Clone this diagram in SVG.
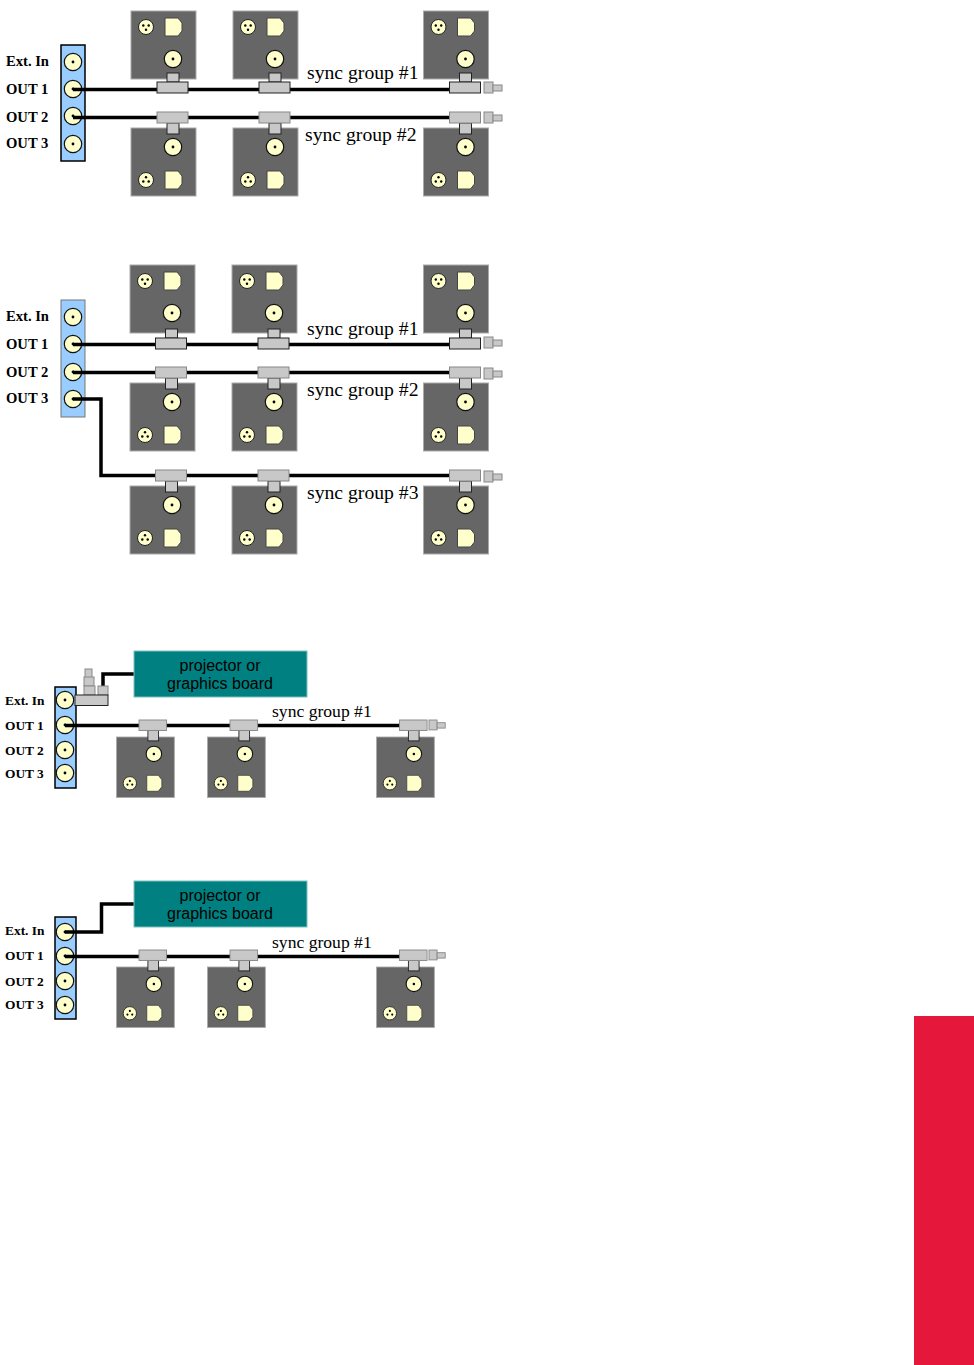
<svg xmlns="http://www.w3.org/2000/svg" width="974" height="1365" viewBox="0 0 974 1365">
<style>
.lab{font-family:"Liberation Serif",serif;font-weight:bold;font-size:14.6px;fill:#000}
.lab2{font-family:"Liberation Serif",serif;font-weight:bold;font-size:13.4px;fill:#000}
.sy{font-family:"Liberation Serif",serif;font-size:19.700px;fill:#000}
.sy2{font-family:"Liberation Serif",serif;font-size:17.600px;fill:#000}
.pj{font-family:"Liberation Sans",sans-serif;font-size:16px;fill:#000;text-anchor:middle}
.cab{fill:none;stroke:#000;stroke-width:3.500}
.pan{fill:#99ccff;stroke:#000;stroke-width:1.500}
.pan2{fill:#99ccff;stroke:#777;stroke-width:1}
.dev{fill:#666;stroke:#aaa;stroke-width:1}
.cr{fill:#ffffcc;stroke:#111;stroke-width:1.200}
.g{fill:#c8c8c8;stroke:#222;stroke-width:1}
.g2{fill:#c8c8c8;stroke:#888;stroke-width:1}
.teal{fill:#008080;stroke:#7fbfbf;stroke-width:1}
</style>
<defs>
<g id="bnc"><circle r="8.700" class="cr"/><circle r="1.400" fill="#000"/></g>
<g id="xlr"><circle r="7.500" fill="#ffffcc" stroke="#222"/><circle cx="-2.700" cy="-1.500" r="1.200" fill="#000"/><circle cx="2.700" cy="-1.500" r="1.200" fill="#000"/><circle cx="0" cy="2.700" r="1.200" fill="#000"/></g>
<g id="xlr2"><circle r="7.500" fill="#ffffcc" stroke="#222"/><circle cx="-2.700" cy="1.500" r="1.200" fill="#000"/><circle cx="2.700" cy="1.500" r="1.200" fill="#000"/><circle cx="0" cy="-2.700" r="1.200" fill="#000"/></g>
<path id="dsh" d="M0 0H13L17 5V13L13 18H0Z" fill="#ffffcc" stroke="#444"/>
<g id="devU"><rect x="0" y="0" width="65" height="68" class="dev"/><use href="#xlr" x="15" y="16"/><use href="#dsh" x="34" y="7"/><use href="#bnc" x="42" y="48"/></g>
<g id="devD"><rect x="0" y="0" width="65" height="68" class="dev"/><use href="#bnc" x="42" y="19"/><use href="#xlr2" x="15" y="52"/><use href="#dsh" x="34" y="43"/></g>
<g id="teeU"><rect x="10" y="-9" width="12" height="9" class="g"/><rect x="0" y="0" width="31" height="11" class="g"/></g>
<g id="teeD"><rect x="10" y="11" width="12" height="11" class="g"/><rect x="0" y="0" width="31" height="11" class="g2"/></g>
<g id="term"><rect x="0" y="0" width="9" height="11" class="g2"/><rect x="9" y="3" width="9" height="6" class="g2"/></g>
</defs>
<rect width="974" height="1365" fill="#fff"/>
<rect id="red-tab" x="914" y="1016" width="60" height="349" fill="#e5173a"/>

<g id="panel-a"><rect x="61" y="45" width="24" height="116" class="pan"/><use href="#bnc" x="73" y="62"/><use href="#bnc" x="73" y="89"/><use href="#bnc" x="73" y="116"/><use href="#bnc" x="73" y="144"/>
<text class="lab" x="6" y="66">Ext. In</text><text class="lab" x="6" y="94">OUT 1</text><text class="lab" x="6" y="122">OUT 2</text><text class="lab" x="6" y="148">OUT 3</text></g>
<g id="panel-b"><rect x="61" y="300" width="24" height="117" class="pan2"/><use href="#bnc" x="73" y="317"/><use href="#bnc" x="73" y="344"/><use href="#bnc" x="73" y="372"/><use href="#bnc" x="73" y="399"/>
<text class="lab" x="6" y="321">Ext. In</text><text class="lab" x="6" y="349">OUT 1</text><text class="lab" x="6" y="377">OUT 2</text><text class="lab" x="6" y="403">OUT 3</text></g>
<g id="panel-c"><rect x="55" y="687" width="21" height="101" class="pan"/><use href="#bnc" x="65" y="700"/><use href="#bnc" x="65" y="725"/><use href="#bnc" x="65" y="750"/><use href="#bnc" x="65" y="773"/>
<text class="lab2" x="5" y="705">Ext. In</text><text class="lab2" x="5" y="730">OUT 1</text><text class="lab2" x="5" y="755">OUT 2</text><text class="lab2" x="5" y="778">OUT 3</text></g>
<g id="panel-d"><rect x="55" y="917" width="21" height="102" class="pan"/><use href="#bnc" x="65" y="932"/><use href="#bnc" x="65" y="956"/><use href="#bnc" x="65" y="981"/><use href="#bnc" x="65" y="1005"/>
<text class="lab2" x="5" y="935">Ext. In</text><text class="lab2" x="5" y="960">OUT 1</text><text class="lab2" x="5" y="986">OUT 2</text><text class="lab2" x="5" y="1009">OUT 3</text></g>

<g id="connectors">
<path class="cab" d="M73 89.500H452"/><path class="cab" d="M73 117.500H452"/>
<path class="cab" d="M73 344.500H452"/><path class="cab" d="M73 372.500H452"/>
<path class="cab" d="M73 399H101V475.500H452"/>
<path class="cab" d="M65 725.500H402"/><path class="cab" d="M103 688V674H134"/>
<path class="cab" d="M65 956.500H402"/><path class="cab" d="M65 932H101.500V904H134"/>
</g>

<g id="a-d1"><use href="#devU" x="131" y="11"/><use href="#teeU" x="157" y="82"/></g>
<g id="a-d2"><use href="#devU" x="233" y="11"/><use href="#teeU" x="259" y="82"/></g>
<g id="a-d3"><use href="#devU" x="423.500" y="11"/><use href="#teeU" x="449.500" y="82"/><use href="#term" x="484" y="82"/></g>
<g id="a-d4"><use href="#devD" x="131" y="128"/><use href="#teeD" x="157" y="112"/></g>
<g id="a-d5"><use href="#devD" x="233" y="128"/><use href="#teeD" x="259" y="112"/></g>
<g id="a-d6"><use href="#devD" x="423.500" y="128"/><use href="#teeD" x="449.500" y="112"/><use href="#term" x="484" y="112"/></g>
<text class="sy" x="307" y="79">sync group #1</text>
<text class="sy" x="305" y="141">sync group #2</text>

<g id="b-d1"><use href="#devU" x="130" y="265"/><use href="#teeU" x="155.500" y="338"/></g>
<g id="b-d2"><use href="#devU" x="232" y="265"/><use href="#teeU" x="258" y="338"/></g>
<g id="b-d3"><use href="#devU" x="423.500" y="265"/><use href="#teeU" x="449.500" y="338"/><use href="#term" x="484" y="337"/></g>
<g id="b-d4"><use href="#devD" x="130" y="383"/><use href="#teeD" x="155.500" y="367"/></g>
<g id="b-d5"><use href="#devD" x="232" y="383"/><use href="#teeD" x="258" y="367"/></g>
<g id="b-d6"><use href="#devD" x="423.500" y="383"/><use href="#teeD" x="449.500" y="367"/><use href="#term" x="484" y="368"/></g>
<g id="b-d7"><use href="#devD" x="130" y="486"/><use href="#teeD" x="155.500" y="470"/></g>
<g id="b-d8"><use href="#devD" x="232" y="486"/><use href="#teeD" x="258" y="470"/></g>
<g id="b-d9"><use href="#devD" x="423.500" y="486"/><use href="#teeD" x="449.500" y="470"/><use href="#term" x="484" y="471"/></g>
<text class="sy" x="307" y="335">sync group #1</text>
<text class="sy" x="307" y="396">sync group #2</text>
<text class="sy" x="307" y="499">sync group #3</text>

<g id="c-projector"><rect x="134" y="651" width="173" height="46" class="teal"/><text class="pj" x="220" y="671">projector or</text><text class="pj" x="220" y="689">graphics board</text></g>
<g id="c-extin-tee"><rect x="85" y="669" width="7" height="9" class="g2"/><rect x="84" y="677" width="10" height="9" class="g2"/><rect x="84" y="686" width="11" height="9" class="g2"/><rect x="98" y="686" width="10" height="9" class="g2"/><rect x="75" y="695" width="33" height="10.500" class="g"/></g>
<g id="c-d1"><use href="#devD" transform="translate(116.500 737) scale(.89)"/><use href="#teeD" transform="translate(139 720) scale(.89 .95)"/></g>
<g id="c-d2"><use href="#devD" transform="translate(207.500 737) scale(.89)"/><use href="#teeD" transform="translate(230 720) scale(.89 .95)"/></g>
<g id="c-d3"><use href="#devD" transform="translate(376.500 737) scale(.89)"/><use href="#teeD" transform="translate(399.500 720) scale(.89 .95)"/><use href="#term" transform="translate(429 720) scale(.9)"/></g>
<text class="sy2" x="272" y="717">sync group #1</text>

<g id="d-projector"><rect x="134" y="881" width="173" height="46" class="teal"/><text class="pj" x="220" y="901">projector or</text><text class="pj" x="220" y="919">graphics board</text></g>
<g id="d-d1"><use href="#devD" transform="translate(116.500 967) scale(.89)"/><use href="#teeD" transform="translate(139 950) scale(.89 .95)"/></g>
<g id="d-d2"><use href="#devD" transform="translate(207.500 967) scale(.89)"/><use href="#teeD" transform="translate(230 950) scale(.89 .95)"/></g>
<g id="d-d3"><use href="#devD" transform="translate(376.500 967) scale(.89)"/><use href="#teeD" transform="translate(399.500 950) scale(.89 .95)"/><use href="#term" transform="translate(429 950) scale(.9)"/></g>
<text class="sy2" x="272" y="948">sync group #1</text>
</svg>
